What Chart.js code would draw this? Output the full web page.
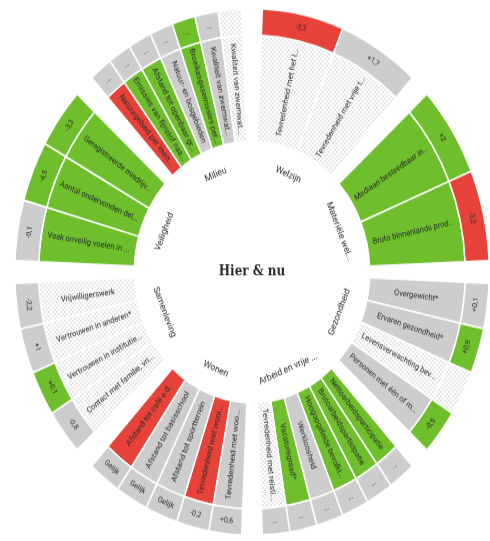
<!DOCTYPE html>
<html>
<head>
<meta charset="utf-8">
<script src="https://cdn.jsdelivr.net/npm/chart.js@4.4.0/dist/chart.umd.min.js"></script>
<style>
html, body { margin: 0; padding: 0; background: #fff; width: 490px; height: 541px; overflow: hidden; }
#wrap { width: 490px; height: 490px; transform: scaleY(1.11); transform-origin: 0 0; }
</style>
</head>
<body>
<div id="wrap"><canvas id="wheel" width="490" height="490"></canvas></div>
<script>
// thema's, met de klok mee vanaf boven
const groups = ['Welzijn', 'Materiële wel...', 'Gezondheid', 'Arbeid en vrije ...', 'Wonen', 'Samenleving', 'Veiligheid', 'Milieu'];

const items = [
    ['Tevredenheid met het l...', 'Tevredenheid met vrije t...'],
    ['Mediaan besteedbaar in...', 'Bruto binnenlands prod...'],
    ['Overgewicht*', 'Ervaren gezondheid*', 'Levensverwachting bev...', 'Personen met één of m...'],
    ['Nettoarbeidsparticipatie', 'Brutoarbeidsparticipatie', 'Hoogopgeleide bevolki...', 'Werkloosheid', 'Vacaturegraad*', 'Tevredenheid met reisti...'],
    ['Tevredenheid met woo...', 'Tevredenheid met woni...', 'Afstand tot sportterrein', 'Afstand tot basisschool', 'Afstand tot café e.d.'],
    ['Contact met familie, vri...', 'Vertrouwen in institutie...', 'Vertrouwen in anderen*', 'Vrijwilligerswerk'],
    ['Vaak onveilig voelen in ...', 'Aantal ondervonden del...', 'Geregistreerde misdrijv...'],
    ['Natuurgebied per inwo...', 'Emissies van fijnstof naa...', 'Afstand tot openbaar gr...', 'Natuur- en bosgebieden', 'Broeikasgasemissies per...', 'Kwaliteit van zwemwat...', 'Kwaliteit van zwemwat...']
];

// stand nu: g = groen, r = rood, n = neutraal, d = geen oordeel
const status = [
    ['d', 'd'],
    ['g', 'g'],
    ['n', 'n', 'd', 'n'],
    ['g', 'g', 'g', 'n', 'g', 'd'],
    ['n', 'r', 'n', 'n', 'r'],
    ['d', 'd', 'd', 'd'],
    ['g', 'g', 'g'],
    ['r', 'g', 'g', 'n', 'g', 'n', 'd']
];

// ontwikkeling (buitenste ring)
const trend = [
    ['r', 'n'],
    ['g', 'r'],
    ['n', 'g', 'd', 'g'],
    ['n', 'n', 'n', 'n', 'n', 'n'],
    ['n', 'n', 'n', 'n', 'n'],
    ['n', 'g', 'n', 'n'],
    ['n', 'g', 'g'],
    ['n', 'n', 'n', 'n', 'g', 'n', 'd']
];

const changes = [
    ['-3,3', '+1,7'],
    ['+2', '-3,2'],
    ['+0,1', '+0,9', '', '-0,5'],
    ['...', '...', '...', '...', '...', '...'],
    ['+0,6', '-0,2', 'Gelijk', 'Gelijk', 'Gelijk'],
    ['-0,8', '+0,1', '+1', '-2,2'],
    ['-0,1', '-4,5', '-3,3'],
    ['...', '...', '...', '...', '...', '...', '']
];

const GAP = 5;

window.onload = function() {

    // stippelpatroon voor "geen oordeel"
    const pc = document.createElement('canvas');
    pc.width = 4; pc.height = 4;
    const pctx = pc.getContext('2d');
    pctx.fillStyle = '#ffffff';
    pctx.fillRect(0, 0, 4, 4);
    pctx.fillStyle = '#e8e8e8';
    pctx.fillRect(0, 0, 2, 2);
    pctx.fillRect(2, 2, 2, 2);
    const dots = pctx.createPattern(pc, 'repeat');

    const colors = { g: '#6fbe2c', r: '#e6423a', n: '#cdcdcd', d: dots };

    let slices = [], borders = [], itemColors = [], outerColors = [], itemTexts = [], outerTexts = [];
    let catSlices = [], catTexts = [];

    groups.forEach((g, gi) => {
        const n = items[gi].length;
        items[gi].forEach((label, i) => {
            slices.push((45 - GAP) / n);
            borders.push(1.5);
            itemColors.push(colors[status[gi][i]]);
            outerColors.push(colors[trend[gi][i]]);
            itemTexts.push(label);
            outerTexts.push(changes[gi][i]);
        });
        slices.push(GAP);
        borders.push(0);
        itemColors.push('rgba(0,0,0,0)');
        outerColors.push('rgba(0,0,0,0)');
        itemTexts.push('');
        outerTexts.push('');

        catSlices.push(45 - GAP, GAP);
        catTexts.push(g, '');
    });

    const labelPlugin = {
        id: 'wheelLabels',
        afterDatasetsDraw(chart) {
            const c = chart.ctx;
            chart.data.datasets.forEach((ds, di) => {
                const meta = chart.getDatasetMeta(di);
                meta.data.forEach((arc, i) => {
                    const txt = ds.texts[i];
                    if (!txt) return;
                    const p = arc.getProps(['x', 'y', 'startAngle', 'endAngle', 'innerRadius', 'outerRadius']);
                    const a = (p.startAngle + p.endAngle) / 2;
                    let top = (a + Math.PI / 2) % (2 * Math.PI);
                    if (top < 0) top += 2 * Math.PI;
                    let r = (p.innerRadius + p.outerRadius) / 2;
                    if (di === 2) r = p.outerRadius - 23;
                    c.save();
                    c.translate(p.x, p.y);
                    c.fillStyle = '#2a2a2a';
                    c.textAlign = 'center';
                    c.textBaseline = 'middle';
                    if (di === 1) {
                        c.font = '7.5px Roboto';
                        c.rotate(a);
                        if (top < Math.PI) {
                            c.fillText(txt, r, 0);
                        } else {
                            c.rotate(Math.PI);
                            c.fillText(txt, -r, 0);
                        }
                    } else {
                        c.font = di === 0 ? '7px Roboto' : '8.5px Roboto';
                        c.translate(Math.cos(a) * r, Math.sin(a) * r);
                        let rot = top;
                        if (top > Math.PI / 2 && top < 3 * Math.PI / 2) rot -= Math.PI;
                        c.rotate(rot);
                        c.fillText(txt, 0, 0);
                    }
                    c.restore();
                });
            });
            const m = chart.getDatasetMeta(0).data[0];
            c.save();
            c.fillStyle = '#2a2a2a';
            c.font = 'bold 12px "DejaVu Serif"';
            c.textAlign = 'center';
            c.textBaseline = 'middle';
            c.fillText('Hier & nu', m.x, m.y);
            c.restore();
        }
    };

    const ctx = document.getElementById('wheel').getContext('2d');
    const wheel = new Chart(ctx, {
        type: 'doughnut',
        data: {
            labels: itemTexts,
            datasets: [
                { data: slices, backgroundColor: outerColors, borderColor: '#ffffff', borderWidth: borders, weight: 24, texts: outerTexts },
                { data: slices, backgroundColor: itemColors, borderColor: '#ffffff', borderWidth: borders, weight: 96, texts: itemTexts },
                { data: catSlices, backgroundColor: 'rgba(0,0,0,0)', borderWidth: 0, weight: 36, texts: catTexts }
            ]
        },
        options: {
            responsive: false,
            animation: false,
            rotation: GAP / 2,
            cutout: '34.5%',
            layout: { padding: { left: 14 } },
            plugins: {
                legend: { display: false },
                tooltip: { enabled: false }
            }
        },
        plugins: [labelPlugin]
    });
}
</script>
</body>
</html>
